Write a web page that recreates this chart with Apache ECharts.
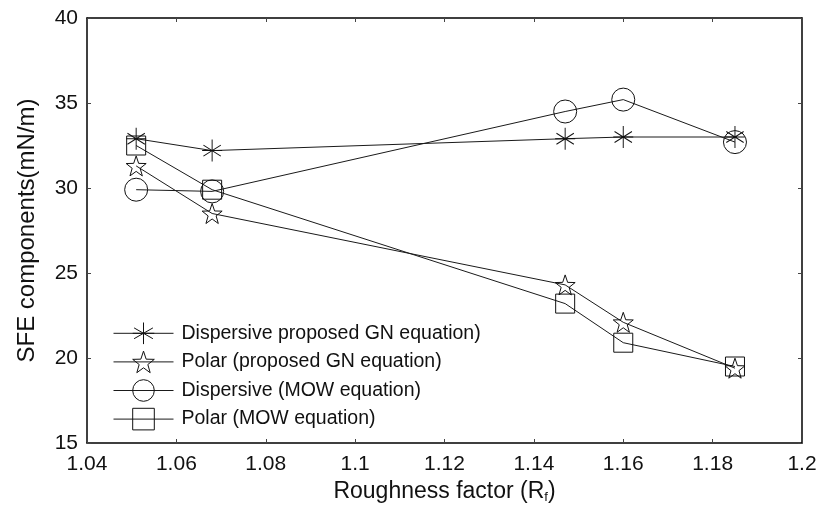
<!DOCTYPE html>
<html>
<head>
<meta charset="utf-8">
<script src="https://cdn.jsdelivr.net/npm/echarts@6/dist/echarts.min.js"></script>
<style>
html,body{margin:0;padding:0;background:#fff;}
#main{width:821px;height:515px;}
</style>
</head>
<body>
<div id="main"></div>
<script>
// roughness factor values
var xVals = [1.051, 1.068, 1.147, 1.16, 1.185];
var dispGN = [32.9, 32.2, 32.9, 33.0, 33.0];
var polarGN = [31.3, 28.5, 24.3, 22.1, 19.4];
var dispMOW = [29.9, 29.8, 34.5, 35.2, 32.7];
var polarMOW = [32.5, 29.9, 23.2, 20.9, 19.5];
var names = ['Dispersive proposed GN equation)', 'Polar (proposed GN equation)', 'Dispersive (MOW equation)', 'Polar (MOW equation)'];

var asterisk = 'path://M0,-1L0,1M-0.87,-0.5L0.87,0.5M-0.87,0.5L0.87,-0.5M-1,0L1,0';
var star = 'path://M0,-1L0.235,-0.324L0.951,-0.309L0.380,0.124L0.588,0.809L0,0.4L-0.588,0.809L-0.380,0.124L-0.951,-0.309L-0.235,-0.324Z';

function pairs(ys){
  var out = [];
  for (var i = 0; i < xVals.length; i++) out.push([xVals[i], ys[i]]);
  return out;
}

function mk(name, ys, symbol, size){
  return {
    name: name,
    type: 'line',
    data: pairs(ys),
    symbol: symbol,
    symbolSize: size,
    showAllSymbol: true,
    lineStyle: {color: '#1a1a1a', width: 1},
    itemStyle: {color: 'rgba(0,0,0,0)', borderColor: '#111', borderWidth: 1},
    emphasis: {disabled: true},
    z: 3
  };
}

var font = 'Liberation Sans, Arial, sans-serif';
var myChart = echarts.init(document.getElementById('main'));
myChart.setOption({
  animation: false,
  backgroundColor: '#fff',
  grid: {left: 87, right: 19, top: 18, bottom: 72},
  legend: {
    left: 108, top: 317, orient: 'vertical',
    itemWidth: 60, itemHeight: 27, itemGap: 6,
    itemStyle: {borderWidth: 1},
    lineStyle: {width: 1},
    textStyle: {fontFamily: font, fontSize: 19.5, color: '#111', padding: [0, 0, 0, 3]},
    data: names
  },
  xAxis: [{
    type: 'value', min: 1.04, max: 1.2, interval: 0.02,
    name: '{n|Roughness factor (R}{s|f}{n|)}',
    nameLocation: 'middle', nameGap: 35,
    nameTextStyle: {rich: {
      n: {fontFamily: font, fontSize: 23, color: '#111'},
      s: {fontFamily: font, fontSize: 13, color: '#111', padding: [12, 0, 0, 0]}
    }},
    axisLine: {show: true, lineStyle: {color: '#000', width: 1.5}},
    axisTick: {show: true, inside: true, length: 4, lineStyle: {color: '#444'}},
    axisLabel: {fontFamily: font, fontSize: 21, color: '#111', margin: 11,
      formatter: function(v){ return String(parseFloat(v.toFixed(2))); }},
    splitLine: {show: false}
  }, {
    type: 'value', position: 'top', min: 1.04, max: 1.2, interval: 0.02,
    axisLine: {show: true, lineStyle: {color: '#000', width: 1.5}},
    axisTick: {show: true, inside: true, length: 4, lineStyle: {color: '#444'}},
    axisLabel: {show: false}, splitLine: {show: false}
  }],
  yAxis: [{
    type: 'value', min: 15, max: 40, interval: 5,
    name: 'SFE components(mN/m)',
    nameLocation: 'middle', nameGap: 48,
    nameTextStyle: {fontFamily: font, fontSize: 24, color: '#111'},
    axisLine: {show: true, lineStyle: {color: '#000', width: 1.5}},
    axisTick: {show: true, inside: true, length: 4, lineStyle: {color: '#444'}},
    axisLabel: {fontFamily: font, fontSize: 21, color: '#111', margin: 9},
    splitLine: {show: false}
  }, {
    type: 'value', position: 'right', min: 15, max: 40, interval: 5,
    axisLine: {show: true, lineStyle: {color: '#000', width: 1.5}},
    axisTick: {show: true, inside: true, length: 4, lineStyle: {color: '#444'}},
    axisLabel: {show: false}, splitLine: {show: false}
  }],
  series: [
    mk(names[0], dispGN, asterisk, [20, 22]),
    mk(names[1], polarGN, star, [20, 20]),
    mk(names[2], dispMOW, 'circle', 23),
    mk(names[3], polarMOW, 'rect', 19)
  ]
});
</script>
</body>
</html>
